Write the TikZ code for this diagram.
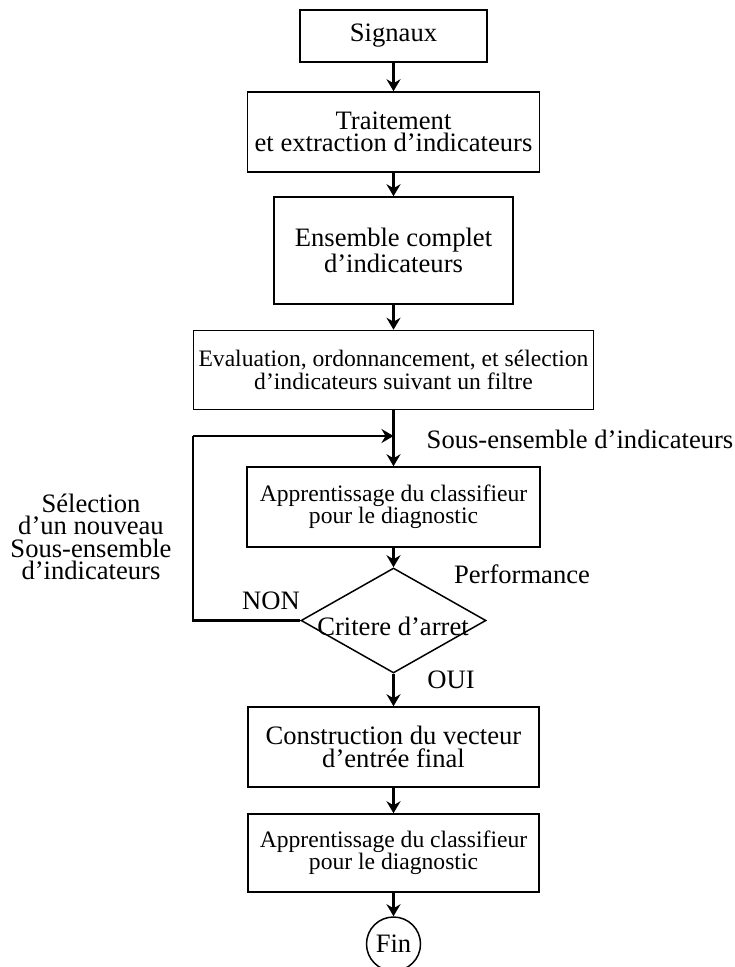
\documentclass[tikz,border=0pt]{standalone}
\usepackage{fontspec}
\setmainfont{Liberation Serif}
\usetikzlibrary{shapes.geometric,arrows.meta}
\newcommand\bigtxt{\fontsize{13.3}{11.2}\selectfont}
\newcommand\smalltxt{\fontsize{11.8}{11.2}\selectfont}
\begin{document}
\begin{tikzpicture}[x=0.5pt,y=-0.5pt,
  box/.style={draw,line width=0.75pt,rectangle,inner sep=0pt,align=center,font=\bigtxt},
  sbox/.style={box,font=\smalltxt},
  lbl/.style={inner sep=0pt,font=\bigtxt,anchor=base},
  flow/.style={line width=1.2pt,-{Stealth[length=6pt,width=7pt,inset=2pt]}},
  loopline/.style={line width=1.2pt}]
\useasboundingbox (0,0) rectangle (734,967);

\node[box,minimum width=93.5pt,minimum height=26pt] (sig) at (393.5,36) {Signaux};
\node[box,minimum width=146pt,minimum height=40pt] (trt) at (393.5,132) {Traitement\\et extraction d’indicateurs};
\node[box,minimum width=119.5pt,minimum height=53.5pt] (ens) at (393.5,250.5) {Ensemble complet\\d’indicateurs};
\node[sbox,minimum width=200pt,minimum height=39.5pt] (eval) at (393.5,370) {Evaluation, ordonnancement, et sélection\\d’indicateurs suivant un filtre};
\node[sbox,minimum width=146.5pt,minimum height=40pt] (app1) at (393.5,507) {Apprentissage du classifieur\\pour le diagnostic};
\node[draw,line width=0.75pt,diamond,inner sep=0pt,minimum width=92.5pt,minimum height=52.5pt] (crit) at (393.5,620.5) {};
\node[lbl] (critt) at (393,635) {Critere d’arret};
\node[box,minimum width=145.5pt,minimum height=40pt] (cons) at (393.5,747) {Construction du vecteur\\d’entrée final};
\node[sbox,minimum width=145.5pt,minimum height=39pt] (app2) at (393.5,853) {Apprentissage du classifieur\\pour le diagnostic};
\node[draw,line width=0.75pt,circle,inner sep=0pt,minimum size=27pt,font=\bigtxt] (fin) at (393.5,944) {Fin};

\node[lbl] (sous) at (580,448) {Sous-ensemble d’indicateurs};
\node[lbl] (perf) at (522,583) {Performance};
\node[lbl] (non) at (271,609) {NON};
\node[lbl] (oui) at (451,688) {OUI};
\node[inner sep=0pt,align=center,font=\bigtxt] (sel) at (91,537) {Sélection\\d’un nouveau\\Sous-ensemble\\d’indicateurs};

\coordinate (j) at (393.5,436);
\coordinate (c1) at (193,620.5);
\coordinate (c2) at (193,436);

\draw[flow] (sig) -- (trt);
\draw[flow] (trt) -- (ens);
\draw[flow] (ens) -- (eval);
\draw[flow] (eval.south) -- (app1.north);
\draw[flow] (app1.south) -- (crit.north);
\draw[flow] (crit.south) -- (cons.north);
\draw[flow] (cons) -- (app2);
\draw[flow] (app2) -- (fin);
\draw[loopline] (crit.west) -- (c1) -- (c2);
\draw[flow] (c2) -- (j);
\end{tikzpicture}
\end{document}
